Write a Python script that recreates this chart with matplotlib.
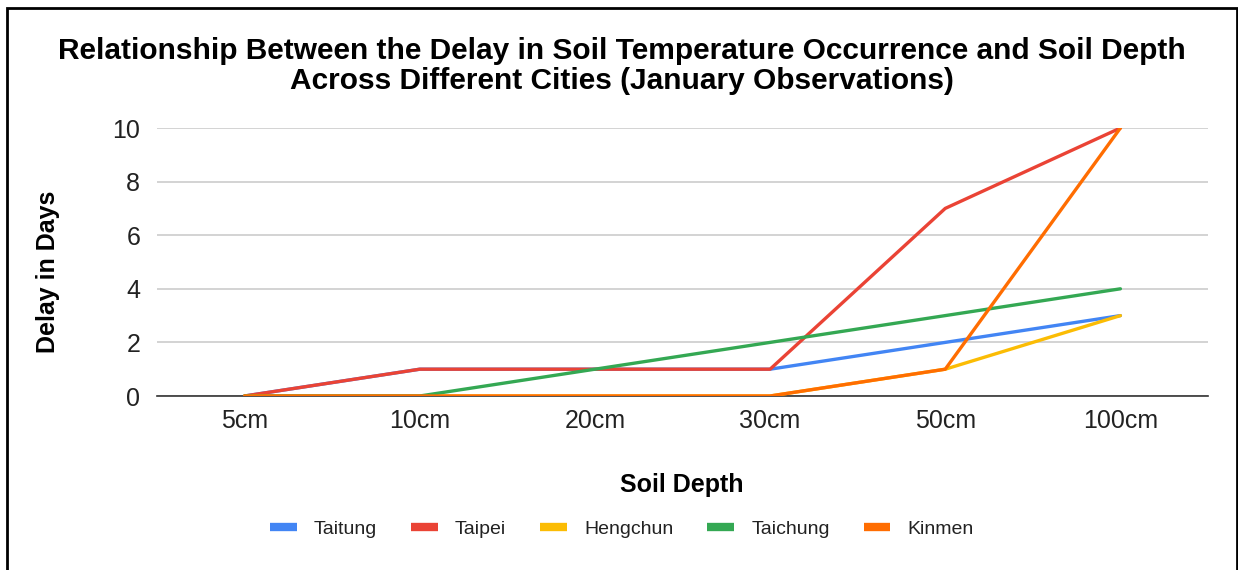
import matplotlib.pyplot as plt
from matplotlib.lines import Line2D
from matplotlib.patches import Rectangle

plt.rcParams['font.family'] = ['Liberation Sans', 'DejaVu Sans']

# Soil depths and delay (days) per city, January observations
depths = ['5cm', '10cm', '20cm', '30cm', '50cm', '100cm']
taitung = [0, 1, 1, 1, 2, 3]
taipei = [0, 1, 1, 1, 7, 10]
hengchun = [0, 0, 0, 0, 1, 3]
taichung = [0, 0, 1, 2, 3, 4]
kinmen = [0, 0, 0, 0, 1, 10]

cities = ['Taitung', 'Taipei', 'Hengchun', 'Taichung', 'Kinmen']
colors = ['#4285F4', '#EA4335', '#FBBC04', '#34A853', '#FF6D01']
series = [taitung, taipei, hengchun, taichung, kinmen]


def main():
  fig = plt.figure(figsize=(12.38, 5.7), dpi=100)
  ax = fig.add_axes([157 / 1238, 1 - 396 / 570, (1208 - 157) / 1238, (396 - 128) / 570])

  x = range(len(depths))
  for vals, c in zip(series, colors):
    ax.plot(x, vals, color=c, linewidth=2.4, solid_capstyle='round', zorder=3)

  ax.set_xlim(-0.5, len(depths) - 0.5)
  ax.set_ylim(0, 10)
  ax.set_yticks(range(0, 11, 2))
  ax.set_xticks(list(x))
  ax.set_xticklabels(depths)
  ax.tick_params(axis='both', length=0, labelsize=18, colors='#222222')
  ax.tick_params(axis='x', pad=9)
  ax.tick_params(axis='y', pad=12)
  ax.grid(axis='y', color='#cccccc', linewidth=1.2, zorder=0)
  for side in ['top', 'right', 'left']:
    ax.spines[side].set_visible(False)
  ax.spines['bottom'].set_color('#333333')
  ax.spines['bottom'].set_linewidth(1.2)

  fig.text(682 / 1238, 1 - 485 / 570, 'Soil Depth', ha='center', va='center',
           fontsize=18, fontweight='bold')
  fig.text(48 / 1238, 1 - 272 / 570, 'Delay in Days', ha='center', va='center',
           rotation=90, fontsize=18, fontweight='bold')

  fig.text(622 / 1238, 1 - 66 / 570,
           'Relationship Between the Delay in Soil Temperature Occurrence and Soil Depth\n'
           'Across Different Cities (January Observations)',
           ha='center', va='center', fontsize=21.5, fontweight='bold', linespacing=1.1)

  handles = [Line2D([], [], color=c, linewidth=6, solid_capstyle='butt') for c in colors]
  fig.legend(handles, cities, loc='center', bbox_to_anchor=(622 / 1238, 1 - 529 / 570),
             ncol=5, frameon=False, fontsize=14, handlelength=1.35, columnspacing=1.75,
             handletextpad=0.9, labelcolor='#222222')

  # Outer frame around the chart
  fig.patches.append(Rectangle((7 / 1238, -0.05), (1237 - 7) / 1238, 1.05 - 8 / 570,
                               transform=fig.transFigure, fill=False,
                               edgecolor='black', linewidth=2))

  fig.savefig('out.png', dpi=100)
  plt.close(fig)


if __name__ == '__main__':
  main()
